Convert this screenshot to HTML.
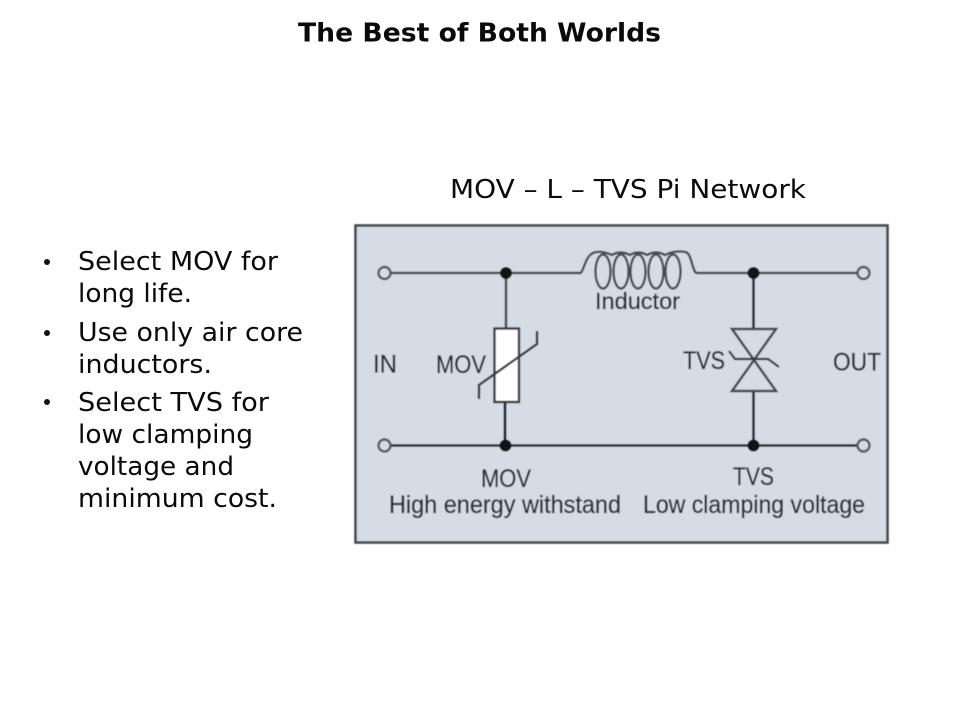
<!DOCTYPE html>
<html>
<head>
<meta charset="utf-8">
<style>
html,body{margin:0;padding:0;background:#fff;width:960px;height:720px;overflow:hidden}
svg{display:block}
.d{font-family:"DejaVu Sans",sans-serif;fill:#0a0a0a}
.l{font-family:"Liberation Sans",sans-serif;fill:#2b2e33;stroke:#2b2e33;stroke-width:.3px;font-size:25px}
</style>
</head>
<body>
<svg width="960" height="720" viewBox="0 0 960 720" xmlns="http://www.w3.org/2000/svg">
<defs><filter id="b" x="-5%" y="-5%" width="110%" height="110%"><feGaussianBlur stdDeviation="0.5"/></filter></defs>
<rect width="960" height="720" fill="#fff"/>
<text class="d" x="298" y="41.500" font-size="26" font-weight="bold" textLength="363" lengthAdjust="spacingAndGlyphs">The Best of Both Worlds</text>
<text class="d" x="450" y="198" font-size="26" textLength="356" lengthAdjust="spacingAndGlyphs">MOV – L – TVS Pi Network</text>

<circle cx="47" cy="262" r="3" fill="#111"/>
<circle cx="47" cy="333" r="3" fill="#111"/>
<circle cx="47" cy="402" r="3" fill="#111"/>
<g class="d" font-size="26">
<text x="78" y="270" textLength="200" lengthAdjust="spacingAndGlyphs">Select MOV for</text>
<text x="78" y="302" textLength="114" lengthAdjust="spacingAndGlyphs">long life.</text>
<text x="78" y="341" textLength="225" lengthAdjust="spacingAndGlyphs">Use only air core</text>
<text x="78" y="373" textLength="134" lengthAdjust="spacingAndGlyphs">inductors.</text>
<text x="78" y="411" textLength="191" lengthAdjust="spacingAndGlyphs">Select TVS for</text>
<text x="78" y="443" textLength="175" lengthAdjust="spacingAndGlyphs">low clamping</text>
<text x="78" y="475" textLength="156" lengthAdjust="spacingAndGlyphs">voltage and</text>
<text x="78" y="507" textLength="199" lengthAdjust="spacingAndGlyphs">minimum cost.</text>
</g>

<g filter="url(#b)">
<rect x="355.500" y="225.500" width="532" height="317" fill="#d5dce6" stroke="#44484c" stroke-width="2.600"/>
<g fill="none" stroke="#4a4e52" stroke-width="2.400">
<path d="M390 273H580C584 273 585 252 597 252"/>
<path d="M685 252C692 252 692 273 697 273H858"/>
<ellipse cx="603" cy="271.500" rx="7.500" ry="17"/>
<ellipse cx="621" cy="271.500" rx="7.500" ry="17"/>
<ellipse cx="638" cy="271.500" rx="7.500" ry="17"/>
<ellipse cx="656" cy="271.500" rx="7.500" ry="17"/>
<ellipse cx="673" cy="271.500" rx="7.500" ry="17"/>
<path d="M597 252Q603 251 612 255Q620 250 630 255Q638 250 647 255Q656 250 665 255Q675 250 685 252"/>
</g>
<path d="M506 273V328" stroke="#4a4e52" stroke-width="2.600" fill="none"/>
<path d="M505 402V446" stroke="#24272a" stroke-width="2.800" fill="none"/>
<path d="M390 445.500H858" stroke="#26292c" stroke-width="2.600" fill="none"/>
<path d="M753.500 273V329M753.500 391V446" stroke="#24272a" stroke-width="2.600" fill="none"/>
<circle cx="384.500" cy="273" r="6" fill="#d5dce6" stroke="#54585c" stroke-width="2.400"/>
<circle cx="384.500" cy="445.500" r="6" fill="#d5dce6" stroke="#54585c" stroke-width="2.400"/>
<circle cx="863.500" cy="273" r="6" fill="#d5dce6" stroke="#54585c" stroke-width="2.400"/>
<circle cx="863.500" cy="445.500" r="6" fill="#d5dce6" stroke="#54585c" stroke-width="2.400"/>
<circle cx="506" cy="273" r="6" fill="#101214"/>
<circle cx="505.500" cy="445.500" r="6" fill="#101214"/>
<circle cx="753.500" cy="273" r="6" fill="#101214"/>
<circle cx="753.500" cy="445.500" r="6" fill="#101214"/>
<rect x="494.500" y="328.500" width="24.500" height="73.500" fill="#fff" stroke="#34383c" stroke-width="2.400"/>
<path d="M479 399V385L537 344V331" fill="none" stroke="#34383c" stroke-width="2.400"/>
<path d="M732 329H776L754 360ZM732 391H776L754 360Z" fill="none" stroke="#45494d" stroke-width="2.500"/>
<path d="M729 351L735 359H768L779 367" fill="none" stroke="#34383c" stroke-width="2.200"/>
<g class="l">
<text x="595" y="309" font-size="23" textLength="85" lengthAdjust="spacingAndGlyphs">Inductor</text>
<text x="373" y="372.500" textLength="24" lengthAdjust="spacingAndGlyphs">IN</text>
<text x="436" y="373" textLength="50" lengthAdjust="spacingAndGlyphs">MOV</text>
<text x="683" y="369" textLength="42" lengthAdjust="spacingAndGlyphs">TVS</text>
<text x="833" y="370.500" textLength="48" lengthAdjust="spacingAndGlyphs">OUT</text>
<text x="481" y="487" textLength="50" lengthAdjust="spacingAndGlyphs">MOV</text>
<text x="733" y="485" textLength="41" lengthAdjust="spacingAndGlyphs">TVS</text>
<text x="389" y="513" textLength="232" lengthAdjust="spacingAndGlyphs">High energy withstand</text>
<text x="643" y="513" textLength="222" lengthAdjust="spacingAndGlyphs">Low clamping voltage</text>
</g>
</g>
</svg>
</body>
</html>
